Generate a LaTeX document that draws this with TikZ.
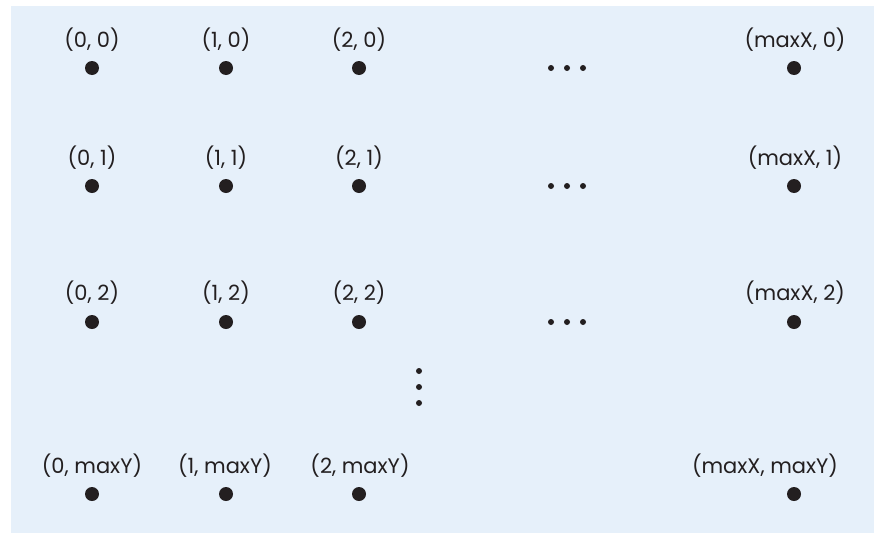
\documentclass[tikz,border=0pt]{standalone}
\usepackage{fontspec}
\setmainfont{Poppins}
\definecolor{bgblue}{HTML}{E6F0FA}
\definecolor{ink}{HTML}{231F20}
\begin{document}
\begin{tikzpicture}[x=1pt,y=-1pt,
  pt/.style={circle,fill=ink,inner sep=0pt,minimum size=14pt},
  sdot/.style={circle,fill=ink,inner sep=0pt,minimum size=6pt},
  lbl/.style={inner sep=0pt,text=ink,font=\fontsize{21}{24}\selectfont,anchor=base}]
\useasboundingbox (0,0) rectangle (874,533);
\fill[bgblue] (11,6) rectangle (874,533);
% rows
\foreach \r/\dy/\ly/\yl in {0/68/47/0,1/186/165/1,2/322/300/2}{
  \node[pt] (p0\r) at (92,\dy) {};
  \node[pt] (p1\r) at (226,\dy) {};
  \node[pt] (p2\r) at (359,\dy) {};
  \node[pt] (pm\r) at (794,\dy) {};
  \node[lbl] (l0\r) at (92,\ly) {(0, \yl)};
  \node[lbl] (l1\r) at (226,\ly) {(1, \yl)};
  \node[lbl] (l2\r) at (359,\ly) {(2, \yl)};
  \node[lbl] (lm\r) at (795,\ly) {(maxX, \yl)};
  \node[sdot] (ea\r) at (551,\dy) {};
  \node[sdot] (eb\r) at (567,\dy) {};
  \node[sdot] (ec\r) at (583,\dy) {};
}
% last row
\node[pt] (p0m) at (92,494) {};
\node[pt] (p1m) at (226,494) {};
\node[pt] (p2m) at (359,494) {};
\node[pt] (pmm) at (794,494) {};
\node[lbl] (l0m) at (92,473) {(0, maxY)};
\node[lbl] (l1m) at (225,473) {(1, maxY)};
\node[lbl] (l2m) at (360,473) {(2, maxY)};
\node[lbl] (lmm) at (765,473) {(maxX, maxY)};
% vertical ellipsis
\node[sdot] (va) at (419,371) {};
\node[sdot] (vb) at (419,387) {};
\node[sdot] (vc) at (419,403) {};
\end{tikzpicture}
\end{document}
